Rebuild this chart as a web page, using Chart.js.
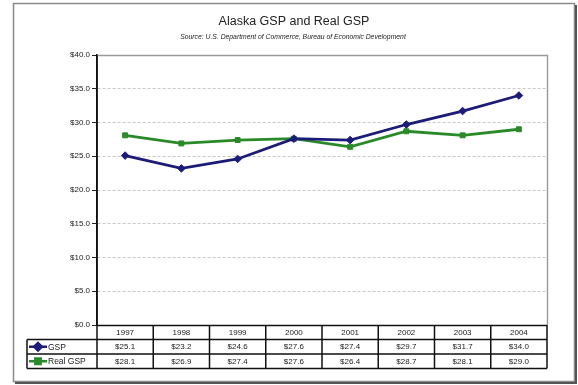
<!DOCTYPE html>
<html>
<head>
<meta charset="utf-8">
<script src="https://cdn.jsdelivr.net/npm/chart.js@4/dist/chart.umd.min.js"></script>
<style>
  html, body { margin: 0; padding: 0; background: #fff; }
  #wrap { width: 578px; height: 385px; position: relative; }
</style>
</head>
<body>
<div id="wrap"><canvas id="c" width="578" height="385"></canvas></div>
<script>
const categories = ['1997', '1998', '1999', '2000', '2001', '2002', '2003', '2004'];
const gspValues = [25.1, 23.2, 24.6, 27.6, 27.4, 29.7, 31.7, 34.0];
const realGspValues = [28.1, 26.9, 27.4, 27.6, 26.4, 28.7, 28.1, 29.0];
const seriesNames = ['GSP', 'Real GSP'];
const titleText = 'Alaska GSP and Real GSP';
const subtitleText = 'Source: U.S. Department of Commerce, Bureau of Economic Development';
const yTicks = [0, 5, 10, 15, 20, 25, 30, 35, 40];

const NAVY = '#1c1c78';
const GREEN = '#2a8a2a';
const FONT = '"Liberation Sans", Arial, sans-serif';

function money(v) { return '$' + v.toFixed(1); }

const framePlugin = {
  id: 'frameTable',
  beforeDraw(chart) {
    const ctx = chart.ctx;
    ctx.save();
    ctx.fillStyle = '#fff';
    ctx.fillRect(0, 0, chart.width, chart.height);
    // outer frame
    ctx.strokeStyle = '#8a8a8a';
    ctx.lineWidth = 1.5;
    ctx.strokeRect(13.5, 3.5, 561, 378);
    ctx.strokeStyle = '#555';
    ctx.lineWidth = 2;
    ctx.beginPath();
    ctx.moveTo(576, 5); ctx.lineTo(576, 383); ctx.lineTo(15, 383);
    ctx.stroke();
    ctx.restore();
  },
  afterDraw(chart) {
    const ctx = chart.ctx;
    const area = chart.chartArea;
    const xs = chart.scales.x;
    ctx.save();
    // title
    ctx.fillStyle = '#222';
    ctx.textAlign = 'center';
    ctx.textBaseline = 'middle';
    ctx.font = '12.5px ' + FONT;
    ctx.fillText(titleText, 294, 22);
    ctx.font = 'italic 6.8px ' + FONT;
    ctx.fillText(subtitleText, 293, 37);

    // plot border (top/right)
    ctx.strokeStyle = '#9a9a9a';
    ctx.lineWidth = 1.4;
    ctx.beginPath();
    ctx.moveTo(area.left, area.top + 0.5);
    ctx.lineTo(area.right + 0.5, area.top + 0.5);
    ctx.lineTo(area.right + 0.5, area.bottom);
    ctx.stroke();

    // table
    const n = categories.length;
    const colW = xs.width / n;
    const rowH = 14.5;
    const y0 = area.bottom;
    const y1 = y0 + rowH, y2 = y1 + rowH, y3 = y2 + rowH;
    const legLeft = 27;

    ctx.strokeStyle = '#111';
    ctx.lineWidth = 1.5;
    ctx.beginPath();
    ctx.moveTo(area.left, y0 + 0.5); ctx.lineTo(area.right, y0 + 0.5);
    ctx.moveTo(legLeft, y1); ctx.lineTo(area.right, y1);
    ctx.moveTo(legLeft, y2); ctx.lineTo(area.right, y2);
    ctx.moveTo(legLeft, y3); ctx.lineTo(area.right, y3);
    ctx.moveTo(legLeft, y1); ctx.lineTo(legLeft, y3);
    for (let i = 0; i <= n; i++) {
      const x = area.left + i * colW;
      ctx.moveTo(x, i === 0 ? area.top : y0); ctx.lineTo(x, y3);
    }
    ctx.stroke();

    ctx.fillStyle = '#222';
    ctx.font = '8px ' + FONT;
    ctx.textAlign = 'center';
    ctx.textBaseline = 'middle';
    for (let i = 0; i < n; i++) {
      const cx = xs.getPixelForValue(i);
      ctx.fillText(categories[i], cx, (y0 + y1) / 2 + 0.5);
      ctx.fillText(money(gspValues[i]), cx, (y1 + y2) / 2 + 0.5);
      ctx.fillText(money(realGspValues[i]), cx, (y2 + y3) / 2 + 0.5);
    }

    // legend keys
    const keys = [
      { name: seriesNames[0], color: NAVY, shape: 'rectRot', y: (y1 + y2) / 2 },
      { name: seriesNames[1], color: GREEN, shape: 'rect', y: (y2 + y3) / 2 }
    ];
    keys.forEach(k => {
      ctx.strokeStyle = k.color;
      ctx.lineWidth = 2.5;
      ctx.beginPath();
      ctx.moveTo(legLeft + 2, k.y); ctx.lineTo(legLeft + 20, k.y);
      ctx.stroke();
      ctx.fillStyle = k.color;
      Chart.helpers.drawPoint(ctx, { pointStyle: k.shape, radius: 3.8, borderWidth: 1 }, legLeft + 11, k.y);
      ctx.fillStyle = '#222';
      ctx.textAlign = 'left';
      ctx.font = '8.5px ' + FONT;
      ctx.fillText(k.name, legLeft + 21, k.y + 0.5);
    });
    ctx.restore();
  }
};

new Chart(document.getElementById('c'), {
  type: 'line',
  data: {
    labels: categories,
    datasets: [
      {
        label: seriesNames[0],
        data: gspValues,
        borderColor: NAVY,
        backgroundColor: NAVY,
        borderWidth: 2.8,
        pointStyle: 'rectRot',
        pointRadius: 3.8,
        pointBorderWidth: 1,
        tension: 0
      },
      {
        label: seriesNames[1],
        data: realGspValues,
        borderColor: GREEN,
        backgroundColor: GREEN,
        borderWidth: 2.8,
        pointStyle: 'rect',
        pointRadius: 3.5,
        pointBorderWidth: 1,
        tension: 0
      }
    ]
  },
  options: {
    responsive: false,
    animation: false,
    devicePixelRatio: 1,
    layout: { padding: { left: 47, right: 31, top: 55, bottom: 60 } },
    plugins: {
      legend: { display: false },
      title: { display: false },
      tooltip: { enabled: false }
    },
    scales: {
      x: {
        type: 'category',
        offset: true,
        display: false
      },
      y: {
        min: 0,
        max: 40,
        afterFit(scale) { scale.width = 50; },
        afterBuildTicks(scale) { scale.ticks = yTicks.map(v => ({ value: v })); },
        ticks: {
          callback: v => money(v),
          font: { family: FONT, size: 8 },
          color: '#222',
          padding: 2
        },
        grid: {
          color: '#c8c8c8',
          lineWidth: 1,
          drawTicks: true,
          tickLength: 5,
          tickColor: '#222',
          tickBorderDash: []
        },
        border: {
          display: true,
          color: '#111',
          width: 1.6,
          dash: [3, 2]
        }
      }
    }
  },
  plugins: [framePlugin]
});
</script>
</body>
</html>
